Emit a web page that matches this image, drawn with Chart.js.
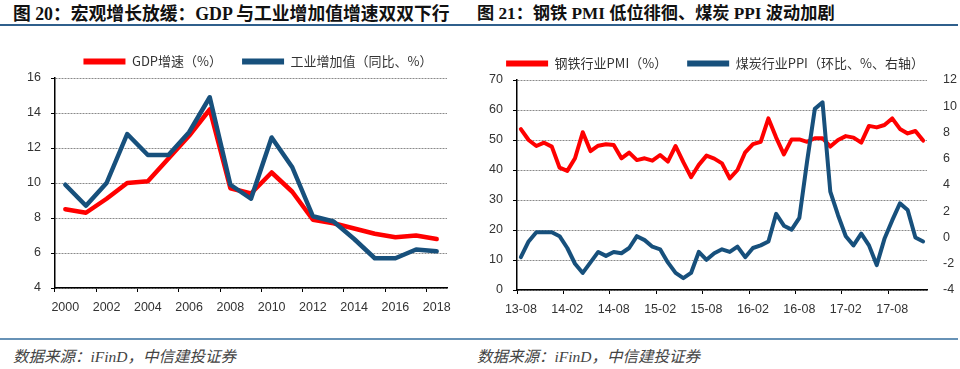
<!DOCTYPE html>
<html>
<head>
<meta charset="utf-8">
<script src="https://cdn.jsdelivr.net/npm/chart.js@4.4.0/dist/chart.umd.min.js"></script>
<style>
  body { margin:0; width:960px; height:369px; background:#fff; position:relative; overflow:hidden; }
  .title { position:absolute; top:4px; font:bold 17.8px "Liberation Serif", "Noto Sans CJK SC", serif; color:#111; white-space:nowrap; line-height:20px; }
  .rule { position:absolute; height:2px; }
  .src { position:absolute; top:347px; font:italic 15.5px "Liberation Serif", "Noto Sans CJK SC", serif; color:#444; white-space:nowrap; line-height:20px; }
  canvas { position:absolute; }
</style>
</head>
<body>
<div class="title" style="left:13px">图 20：宏观增长放缓：GDP 与工业增加值增速双双下行</div>
<div class="title" style="left:477px;font-size:17.2px">图 21：钢铁 PMI 低位徘徊、煤炭 PPI 波动加剧</div>
<div class="rule" style="left:0;top:24px;width:958px;background:#2f5f8c"></div>
<div class="rule" style="left:0;top:338px;width:958px;background:#6792b6"></div>
<div class="src" style="left:13px">数据来源：iFinD，中信建投证券</div>
<div class="src" style="left:477px">数据来源：iFinD，中信建投证券</div>
<canvas id="gdpChart" width="480" height="295" style="left:0;top:35px"></canvas>
<canvas id="pmiChart" width="484" height="295" style="left:476px;top:37px"></canvas>
<script>
// 图20 数据
const years = ['2000','2001','2002','2003','2004','2005','2006','2007','2008','2009',
               '2010','2011','2012','2013','2014','2015','2016','2017','2018'];
const gdpGrowth = [8.5, 8.3, 9.1, 10.0, 10.1, 11.4, 12.7, 14.2, 9.7, 9.4,
                   10.6, 9.5, 7.9, 7.7, 7.4, 7.1, 6.9, 7.0, 6.8];
const industryGrowth = [9.9, 8.7, 10.0, 12.8, 11.6, 11.6, 12.9, 14.9, 9.9, 9.1,
                        12.6, 10.9, 8.1, 7.8, 6.8, 5.7, 5.7, 6.2, 6.1];

// 图21 数据
const months = ['13-08','13-09','13-10','13-11','13-12',
  '14-01','14-02','14-03','14-04','14-05','14-06','14-07','14-08','14-09','14-10','14-11','14-12',
  '15-01','15-02','15-03','15-04','15-05','15-06','15-07','15-08','15-09','15-10','15-11','15-12',
  '16-01','16-02','16-03','16-04','16-05','16-06','16-07','16-08','16-09','16-10','16-11','16-12',
  '17-01','17-02','17-03','17-04','17-05','17-06','17-07','17-08','17-09','17-10','17-11','17-12'];
const steelPmi = [53.6, 50.0, 48.0, 49.1, 47.8, 40.8, 39.7, 43.9, 52.6, 46.3, 48.1, 48.6, 48.3,
                  43.9, 45.8, 43.3, 43.9, 43.1, 45.0, 42.8, 48.0, 42.6, 37.6, 41.7, 44.8, 43.8,
                  42.2, 37.2, 40.0, 45.9, 48.6, 49.4, 57.2, 50.8, 45.2, 50.2, 50.2, 49.4, 50.6,
                  50.6, 47.8, 50.0, 51.3, 50.8, 49.1, 54.7, 54.2, 55.0, 57.2, 53.7, 52.2, 53.0, 49.8];
const coalPpi = [-1.5, -0.3, 0.4, 0.4, 0.4, 0.1, -0.8, -2.0, -2.7, -1.9, -1.1, -1.4, -1.1,
                 -1.2, -0.8, 0.1, -0.2, -0.7, -0.9, -1.9, -2.7, -3.1, -2.7, -1.1, -1.7, -1.2,
                 -0.9, -1.1, -0.7, -1.5, -0.8, -0.6, -0.3, 1.8, 0.9, 0.6, 1.5, 5.8, 9.8,
                 10.3, 3.5, 1.7, 0.1, -0.6, 0.3, -0.6, -2.1, -0.1, 1.3, 2.6, 2.1, 0.0, -0.3];

const RED = '#ff0000';
const BLUE = '#17507c';

Chart.defaults.font.family = '"Liberation Sans", "Noto Sans CJK SC", sans-serif';
Chart.defaults.font.size = 12.5;
Chart.defaults.color = '#333';

// nudge the legend sideways after layout
const shiftLegend = {
  id: 'shiftLegend',
  afterLayout(chart, args, opts) {
    const lg = chart.legend;
    if (lg && opts.dx) { lg.left += opts.dx; lg.right += opts.dx; }
  }
};

function legendOpts(fullSize) {
  return {
    position: 'top',
    fullSize: fullSize,
    labels: {
      boxWidth: 42, boxHeight: 6, padding: 20,
      font: { family: '"Noto Sans CJK SC", sans-serif', size: 13 },
      color: '#333',
      generateLabels(chart) {
        const items = Chart.defaults.plugins.legend.labels.generateLabels(chart);
        items.forEach(it => { it.fillStyle = it.strokeStyle; it.lineWidth = 0; });
        return items.sort((a, b) => a.datasetIndex - b.datasetIndex);
      }
    }
  };
}

// y轴：虚线网格 + 黑色轴线
function valueAxis(min, max, step, width) {
  return {
    min: min, max: max,
    ticks: { stepSize: step, padding: 10 },
    grid: { color: '#8a8a8a', lineWidth: 1, tickColor: '#000', tickLength: 4 },
    border: { color: '#000', width: 1.5, dash: [2, 1] },
    afterFit(s) { s.width = width; }
  };
}

function categoryAxis(labels, every) {
  return {
    offset: true,
    ticks: {
      autoSkip: false, maxRotation: 0, minRotation: 0, padding: 8,
      callback: (v, i) => i % every === 0 ? labels[i] : ''
    },
    grid: {
      offset: true, drawOnChartArea: false, drawTicks: true, tickLength: 4,
      tickColor: ctx => ctx.index % every === 0 ? '#000' : 'rgba(0,0,0,0)'
    },
    border: { color: '#000', width: 1.5 },
    afterFit(s) { s.height = 42; }
  };
}

new Chart(document.getElementById('gdpChart'), {
  type: 'line',
  data: {
    labels: years,
    datasets: [
      { label: 'GDP增速（%）', data: gdpGrowth, borderColor: RED, backgroundColor: RED,
        borderWidth: 4.5, pointRadius: 0, tension: 0, order: 1,
        borderJoinStyle: 'round', borderCapStyle: 'round' },
      { label: '工业增加值（同比、%）', data: industryGrowth, borderColor: BLUE, backgroundColor: BLUE,
        borderWidth: 4.5, pointRadius: 0, tension: 0, order: 0,
        borderJoinStyle: 'round', borderCapStyle: 'round' }
    ]
  },
  options: {
    responsive: false,
    animation: false,
    layout: { padding: { top: 0, right: 33, left: 0, bottom: 0 } },
    plugins: { legend: legendOpts(false), shiftLegend: { dx: 7 }, tooltip: { enabled: false } },
    scales: {
      x: categoryAxis(years, 2),
      y: valueAxis(4, 16, 2, 55)
    }
  },
  plugins: [shiftLegend]
});

new Chart(document.getElementById('pmiChart'), {
  type: 'line',
  data: {
    labels: months,
    datasets: [
      { label: '钢铁行业PMI（%）', data: steelPmi, borderColor: RED, backgroundColor: RED,
        borderWidth: 4, pointRadius: 0, tension: 0, yAxisID: 'y', order: 1,
        borderJoinStyle: 'round', borderCapStyle: 'round' },
      { label: '煤炭行业PPI（环比、%、右轴）', data: coalPpi, borderColor: BLUE, backgroundColor: BLUE,
        borderWidth: 4, pointRadius: 0, tension: 0, yAxisID: 'y1', order: 0,
        borderJoinStyle: 'round', borderCapStyle: 'round' }
    ]
  },
  options: {
    responsive: false,
    animation: false,
    layout: { padding: 0 },
    plugins: { legend: legendOpts(true), shiftLegend: { dx: -3 }, tooltip: { enabled: false } },
    scales: {
      x: categoryAxis(months, 6),
      y: valueAxis(0, 70, 10, 41),
      y1: {
        position: 'right', min: -4, max: 12,
        ticks: { stepSize: 2, padding: 16 },
        grid: { drawOnChartArea: false, drawTicks: false },
        border: { display: false },
        afterFit(s) { s.width = 33; }
      }
    }
  },
  plugins: [shiftLegend]
});
</script>
</body>
</html>
